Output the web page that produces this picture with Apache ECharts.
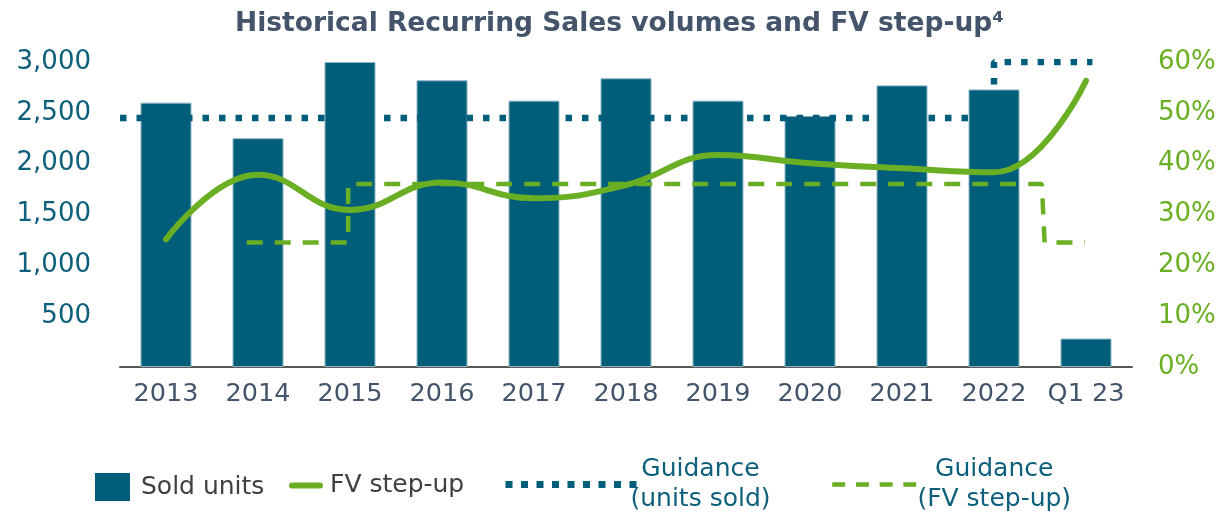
<!DOCTYPE html>
<html>
<head>
<meta charset="utf-8">
<script src="https://cdn.jsdelivr.net/npm/echarts@6/dist/echarts.min.js"></script>
<style>
html,body{margin:0;padding:0;background:#fff;}
#main{width:1221px;height:512px;}
</style>
</head>
<body>
<div id="main"></div>
<script>
// ---- data ----
const categories = ['2013','2014','2015','2016','2017','2018','2019','2020','2021','2022','Q1 23'];
const soldUnits = [2600, 2250, 3000, 2820, 2620, 2840, 2620, 2470, 2770, 2730, 280];
const fvStepUp = [25.1, 37.8, 30.9, 36.3, 33.2, 35.8, 41.7, 40.1, 39.1, 38.3, 56.3];
// guidance lines: [position along category band (0..11), value]
const guidanceUnits = [[0, 2450], [9.5, 2450], [9.5, 3000], [10.57, 3000]];
const guidanceFV = [[1.377, 24.5], [2.48, 24.5], [2.48, 36.0], [10.02, 36.0], [10.05, 24.5], [10.49, 24.5]];
const leftTicks = [0, 3000, 500];
const rightTicks = [0, 60, 10];

const FONT = 'DejaVu Sans';
const TEAL = '#015E7A';
const GREEN = '#6AAF23';
const SLATE = '#44546A';

const chart = echarts.init(document.getElementById('main'));
chart.setOption({
  animation: false,
  backgroundColor: '#fff',
  title: {
    text: 'Historical Recurring Sales volumes and FV step-up\u2074',
    left: 230, top: 6,
    textStyle: {fontFamily: FONT, fontWeight: 'bold', fontSize: 26.5, color: SLATE}
  },
  grid: {left: 120, right: 89, top: 62, bottom: 145, containLabel: false},
  xAxis: [
    {
      type: 'category', data: categories, boundaryGap: true,
      axisLine: {show: true, lineStyle: {color: '#595959', width: 2}},
      axisTick: {show: false},
      axisLabel: {fontFamily: FONT, fontSize: 25.5, color: SLATE, margin: 14, interval: 0}
    },
    {type: 'value', min: 0, max: 11, show: false}
  ],
  yAxis: [
    {
      type: 'value', min: leftTicks[0], max: leftTicks[1], interval: leftTicks[2],
      splitLine: {show: false}, axisLine: {show: false}, axisTick: {show: false},
      axisLabel: {
        fontFamily: FONT, fontSize: 26, color: '#0D5F7B', margin: 29,
        formatter: v => v === 0 ? '' : v.toLocaleString('en-US')
      }
    },
    {
      type: 'value', min: rightTicks[0], max: rightTicks[1], interval: rightTicks[2],
      position: 'right',
      splitLine: {show: false}, axisLine: {show: false}, axisTick: {show: false},
      axisLabel: {fontFamily: FONT, fontSize: 26, color: GREEN, margin: 26, formatter: v => v + '%'}
    }
  ],
  legend: [
    {
      data: ['Sold units'], left: 95, top: 473, padding: 0, icon: 'rect', itemWidth: 35, itemHeight: 28,
      itemStyle: {color: TEAL, borderWidth: 0},
      textStyle: {fontFamily: FONT, fontSize: 25, color: '#404040', padding: [0, 0, 0, 6]}
    },
    {
      data: ['FV step-up'], left: 289, top: 473, padding: 0, itemWidth: 28, itemHeight: 6,
      itemStyle: {color: GREEN, borderWidth: 0, opacity: 0},
      lineStyle: {color: GREEN, width: 6, cap: 'round'},
      textStyle: {fontFamily: FONT, fontSize: 25, color: '#404040', padding: [0, 0, 0, 5]}
    },
    {
      data: ['Guidance (units sold)'], left: 502, top: 457, padding: 0,
      itemWidth: 131, itemHeight: 7,
      itemStyle: {color: TEAL, borderWidth: 0, opacity: 0},
      lineStyle: {color: TEAL, width: 7, type: [7, 8.5], cap: 'butt'},
      formatter: () => '{a|Guidance}\n{a|(units sold)}',
      textStyle: {
        fontFamily: FONT, fontSize: 25, color: '#0D5F7B',
        rich: {a: {fontFamily: FONT, fontSize: 25, color: '#0D5F7B', width: 118, align: 'center', lineHeight: 30}}
      }
    },
    {
      data: ['Guidance (FV step-up)'], left: 830, top: 457, padding: 0,
      itemWidth: 84, itemHeight: 4,
      itemStyle: {color: GREEN, borderWidth: 0, opacity: 0},
      lineStyle: {color: GREEN, width: 4.5, type: [13, 10.7], cap: 'butt'},
      formatter: () => '{a|Guidance}\n{a|(FV step-up)}',
      textStyle: {
        fontFamily: FONT, fontSize: 25, color: '#0D5F7B',
        rich: {a: {fontFamily: FONT, fontSize: 25, color: '#0D5F7B', width: 146, align: 'center', lineHeight: 30}}
      }
    }
  ],
  series: [
    {
      name: 'Guidance (units sold)', type: 'line', xAxisIndex: 1, yAxisIndex: 0,
      data: guidanceUnits, symbol: 'none', color: TEAL,
      lineStyle: {color: TEAL, width: 6.5, type: [6.5, 10], cap: 'butt'}
    },
    {
      name: 'Sold units', type: 'bar', xAxisIndex: 0, yAxisIndex: 0,
      data: soldUnits, barWidth: 51, color: TEAL,
      itemStyle: {color: TEAL, borderColor: '#8DB5C4', borderWidth: 1}
    },
    {
      name: 'Guidance (FV step-up)', type: 'line', xAxisIndex: 1, yAxisIndex: 1,
      data: guidanceFV, symbol: 'none', color: GREEN,
      lineStyle: {color: GREEN, width: 4.5, type: [16, 12], cap: 'butt'}
    },
    {
      name: 'FV step-up', type: 'line', xAxisIndex: 0, yAxisIndex: 1,
      data: fvStepUp, symbol: 'none', smooth: 0.45, color: GREEN,
      lineStyle: {color: GREEN, width: 6, cap: 'round'}
    }
  ]
});
</script>
</body>
</html>
